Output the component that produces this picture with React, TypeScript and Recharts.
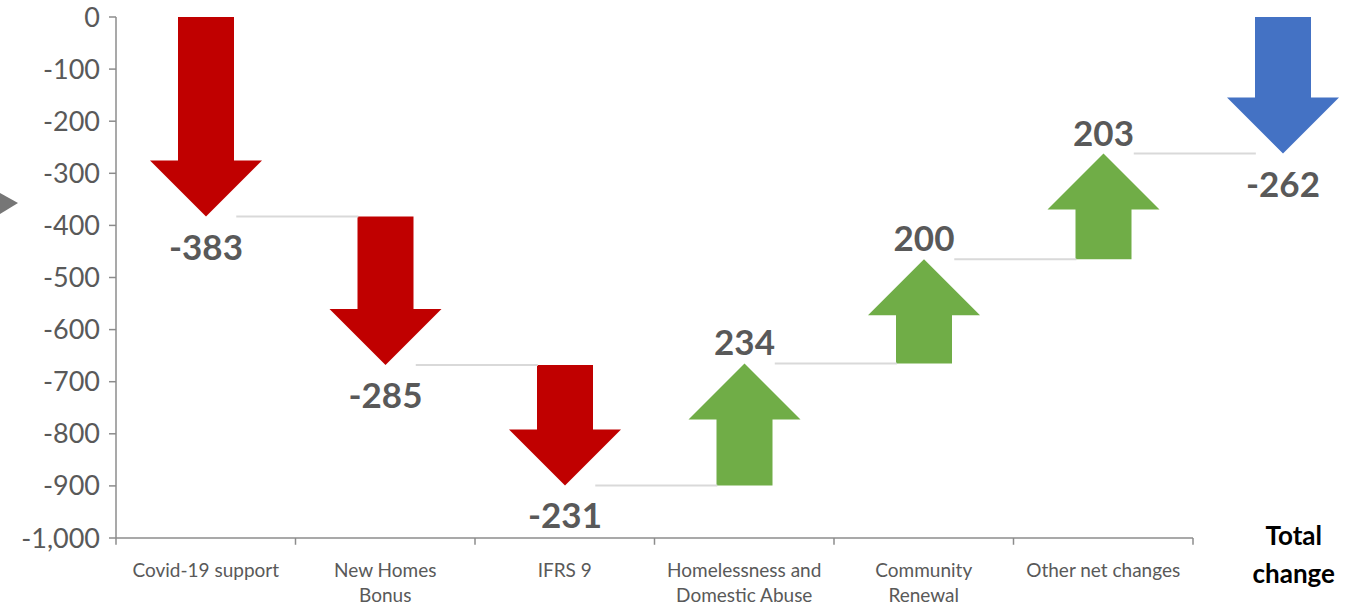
import React from "react";
import { ComposedChart, Bar, XAxis, YAxis, ReferenceLine, LabelList } from "recharts";

const categories = [
  "Covid-19 support",
  "New Homes Bonus",
  "IFRS 9",
  "Homelessness and Domestic Abuse",
  "Community Renewal",
  "Other net changes",
  "Total change",
];
const tickLines = [
  ["Covid-19 support"],
  ["New Homes", "Bonus"],
  ["IFRS 9"],
  ["Homelessness and", "Domestic Abuse"],
  ["Community", "Renewal"],
  ["Other net changes"],
  ["Total", "change"],
];
const changes = [-383, -285, -231, 234, 200, 203];
const totalChange = -262;
const yTicks = [0, -100, -200, -300, -400, -500, -600, -700, -800, -900, -1000];

const RED = "#C00000";
const GREEN = "#70AD47";
const BLUE = "#4472C4";
const GREY_TEXT = "#595959";
const AXIS = "#8c8c8c";
const FONT = "Lato, 'Open Sans', sans-serif";

type Row = { name: string; pos: number; change: number; start: number; end: number; range: [number, number]; kind: string };

const data: Row[] = (() => {
  const rows: Row[] = [];
  let cum = 0;
  changes.forEach((c, i) => {
    const start = cum;
    const end = cum + c;
    rows.push({
      name: categories[i],
      pos: i + 0.5,
      change: c,
      start,
      end,
      range: [Math.min(start, end), Math.max(start, end)],
      kind: c < 0 ? "down" : "up",
    });
    cum = end;
  });
  rows.push({
    name: categories[6],
    pos: 6.5,
    change: totalChange,
    start: 0,
    end: totalChange,
    range: [totalChange, 0],
    kind: "total",
  });
  return rows;
})();

const ArrowShape = (props: any) => {
  const { x, y, width, height, payload } = props;
  if (x == null || y == null) return null;
  const top = Math.min(y, y + height);
  const h = Math.abs(height);
  const bottom = top + h;
  const cx = x + width / 2;
  const shaftHalf = width / 4;
  const head = 56;
  const color = payload.kind === "down" ? RED : payload.kind === "up" ? GREEN : BLUE;
  let d: string;
  if (payload.change < 0) {
    const hb = bottom - head;
    d = `M${cx - shaftHalf},${top} L${cx + shaftHalf},${top} L${cx + shaftHalf},${hb} L${x + width},${hb} L${cx},${bottom} L${x},${hb} L${cx - shaftHalf},${hb} Z`;
  } else {
    const ht = top + head;
    d = `M${cx - shaftHalf},${bottom} L${cx + shaftHalf},${bottom} L${cx + shaftHalf},${ht} L${x + width},${ht} L${cx},${top} L${x},${ht} L${cx - shaftHalf},${ht} Z`;
  }
  return <path d={d} fill={color} />;
};

const renderLabel = (props: any) => {
  const { x, y, width, height, value } = props;
  const top = Math.min(y, y + height);
  const bottom = top + Math.abs(height);
  const cx = x + width / 2;
  const ty = value < 0 ? bottom + 43 : top - 8;
  return (
    <text x={cx} y={ty} textAnchor="middle" fill={GREY_TEXT} fontFamily={FONT} fontWeight={700} fontSize={35}>
      {value}
    </text>
  );
};

const XTick = (props: any) => {
  const { x, y, payload } = props;
  const idx = payload.index;
  const lines = tickLines[idx] || [String(payload.value)];
  if (idx === categories.length - 1) {
    return (
      <g>
        {lines.map((l, i) => (
          <text key={i} x={x + 11} y={y + 7 + i * 38} textAnchor="middle" fill="#000" fontFamily={FONT} fontWeight={700} fontSize={26}>
            {l}
          </text>
        ))}
      </g>
    );
  }
  return (
    <g>
      {lines.map((l, i) => (
        <text key={i} x={x} y={y + 39 + i * 25} textAnchor="middle" fill={GREY_TEXT} fontFamily={FONT} fontSize={19}>
          {l}
        </text>
      ))}
    </g>
  );
};

const connectors = data.slice(0, changes.length).map((r, i) => ({ i, y: r.end }));
const boundaries = [0, 1, 2, 3, 4, 5, 6];

export default function App() {
  return (
    <div style={{ position: "absolute", left: 0, top: 0, width: 1351, height: 606, overflow: "hidden", background: "#fff" }}>
      <svg width={20} height={30} style={{ position: "absolute", left: 0, top: 190 }}>
        <polygon points="0,3 18,13 0,24" fill="#767676" />
      </svg>
      <div style={{ position: "absolute", left: 0, top: 0 }}>
        <ComposedChart width={1380} height={606} data={data} margin={{ top: 17, right: 7.5, bottom: 8, left: 0 }}>
          <XAxis
            dataKey="name"
            height={60}
            axisLine={false}
            tickLine={false}
            tickSize={0}
            tickMargin={0}
            interval={0}
            tick={<XTick />}
          />
          <XAxis
            xAxisId="frame"
            dataKey="pos"
            type="number"
            domain={[0, 7]}
            ticks={[0, 1, 2, 3, 4, 5, 6, 7]}
            hide
            allowDataOverflow
          />
          <YAxis
            domain={[-1000, 0]}
            ticks={yTicks}
            width={116}
            tickSize={7}
            tickMargin={9}
            interval={0}
            axisLine={{ stroke: AXIS, strokeWidth: 1.5 }}
            tickLine={{ stroke: AXIS, strokeWidth: 1.5 }}
            tick={{ fill: GREY_TEXT, fontSize: 27, fontFamily: FONT }}
            tickFormatter={(v: number) => v.toLocaleString("en-US")}
            allowDataOverflow
          />
          {connectors.map((c) => (
            <ReferenceLine
              key={"c" + c.i}
              xAxisId="frame"
              segment={[
                { x: c.i + 0.5 + 0.17, y: c.y },
                { x: c.i + 1.5 - 0.15, y: c.y },
              ]}
              stroke="#d9d9d9"
              strokeWidth={2}
              ifOverflow="visible"
            />
          ))}
          <ReferenceLine
            xAxisId="frame"
            segment={[
              { x: 0, y: -1000 },
              { x: 6, y: -1000 },
            ]}
            stroke={AXIS}
            strokeWidth={1.5}
            ifOverflow="visible"
          />
          {boundaries.map((b) => (
            <ReferenceLine
              key={"t" + b}
              xAxisId="frame"
              segment={[
                { x: b, y: -1000 },
                { x: b, y: -1013 },
              ]}
              stroke={AXIS}
              strokeWidth={1.5}
              ifOverflow="visible"
            />
          ))}
          <Bar dataKey="range" barSize={112} shape={<ArrowShape />} isAnimationActive={false}>
            <LabelList dataKey="change" content={renderLabel} />
          </Bar>
        </ComposedChart>
      </div>
    </div>
  );
}
